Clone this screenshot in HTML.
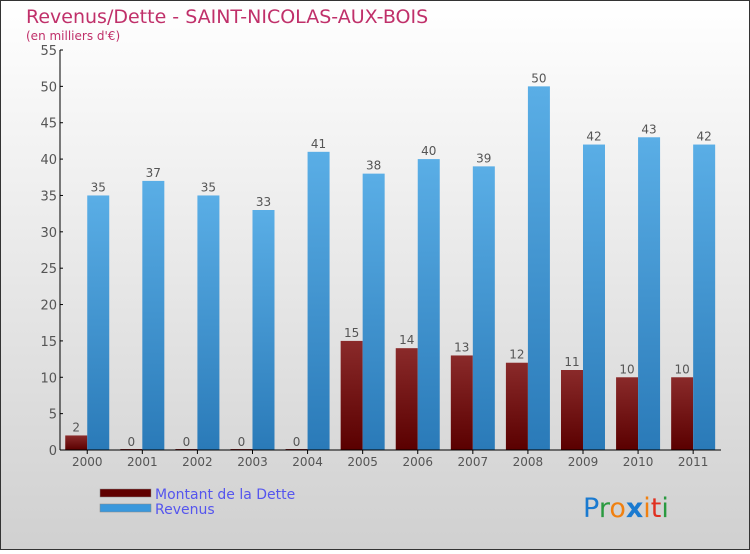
<!DOCTYPE html>
<html><head><meta charset="utf-8"><style>
html,body{margin:0;padding:0}
body{width:750px;height:550px;overflow:hidden;font-family:"DejaVu Sans","Liberation Sans",sans-serif}
</style></head><body>
<svg id="chart" width="750" height="550" xmlns="http://www.w3.org/2000/svg">
<defs>
<linearGradient id="bg" x1="0" y1="0" x2="0" y2="1"><stop offset="0" stop-color="#ffffff"/><stop offset="1" stop-color="#d0d0d0"/></linearGradient>
<linearGradient id="gDebt" x1="0" y1="0" x2="0" y2="1"><stop offset="0" stop-color="#8a2a2a"/><stop offset="1" stop-color="#5a0000"/></linearGradient>
<linearGradient id="gRev" x1="0" y1="0" x2="0" y2="1"><stop offset="0" stop-color="#5aaee6"/><stop offset="1" stop-color="#2a7ab8"/></linearGradient>
</defs>
<rect x="0.5" y="0.5" width="749" height="549" fill="url(#bg)" stroke="#333"/>
<text x="26" y="23" font-size="19" fill="#c0306a">Revenus/Dette - SAINT-NICOLAS-AUX-BOIS</text>
<text x="26" y="40" font-size="12" fill="#c0306a">(en milliers d'€)</text>
<g id="bars"></g>
<g id="axes"></g>
<g>
<rect x="100" y="489" width="51" height="8" fill="#600000" stroke="#888" stroke-width="0.5"/>
<text x="155" y="499" font-size="14" fill="#5555ee">Montant de la Dette</text>
<rect x="100" y="504" width="51" height="8" fill="#3a98dc" stroke="#888" stroke-width="0.5"/>
<text x="155" y="514" font-size="14" fill="#5555ee">Revenus</text>
</g>
<g font-size="27" font-family="DejaVu Sans, sans-serif">
<text x="583" y="517"><tspan fill="#1a7ad0">P</tspan><tspan fill="#2a9a40">r</tspan><tspan fill="#f08010">o</tspan><tspan fill="#1a7ad0" font-weight="bold">x</tspan><tspan fill="#f08010">i</tspan><tspan fill="#e03020">t</tspan><tspan fill="#2a9a40">i</tspan></text>
</g>
</svg>
<script>
const years=["2000","2001","2002","2003","2004","2005","2006","2007","2008","2009","2010","2011"];
const debt=[2,0,0,0,0,15,14,13,12,11,10,10];
const revenue=[35,37,35,33,41,38,40,39,50,42,43,42];
const yTicks=[0,5,10,15,20,25,30,35,40,45,50,55];
const NS="http://www.w3.org/2000/svg";
const x0=60,x1=721,yBase=450,yTop=50,yMax=55;
const gw=(x1-x0)/years.length;
const y=v=>yBase-(v/yMax)*(yBase-yTop);
const bars=document.getElementById('bars'),axes=document.getElementById('axes');
function mk(tag,attrs,parent){const e=document.createElementNS(NS,tag);for(const k in attrs)e.setAttribute(k,attrs[k]);parent.appendChild(e);return e;}
years.forEach((yr,i)=>{
  const c=x0+gw*i+gw/2-0.3;
  const d=mk('rect',{x:c-22,y:y(debt[i])-(debt[i]===0?1:0),width:22,height:Math.max(1,yBase-y(debt[i])),fill:'url(#gDebt)'},bars);
  
  
  const r=mk('rect',{x:c,y:y(revenue[i]),width:22,height:yBase-y(revenue[i]),fill:'url(#gRev)'},bars);
  
  
  const dl=mk('text',{x:c-11,y:y(debt[i])-4,'font-size':12,fill:'#555','text-anchor':'middle'},bars);dl.textContent=debt[i];
  
  
  const rl=mk('text',{x:c+11,y:y(revenue[i])-4,'font-size':12,fill:'#555','text-anchor':'middle'},bars);rl.textContent=revenue[i];
  
  
  const t=mk('line',{x1:c,x2:c,y1:yBase,y2:yBase+4,stroke:'#000'},axes);
  
  
  const xl=mk('text',{x:c,y:yBase+16,'font-size':12,fill:'#555','text-anchor':'middle'},axes);xl.textContent=yr;
  
  
});
const ya=mk('line',{x1:x0,x2:x0,y1:yTop,y2:yBase,stroke:'#000'},axes);


const xa=mk('line',{x1:x0,x2:x1,y1:yBase,y2:yBase,stroke:'#000'},axes);


yTicks.forEach(v=>{
  const t=mk('line',{x1:x0,x2:x0+3,y1:y(v),y2:y(v),stroke:'#000'},axes);
  
  
  const l=mk('text',{x:x0-3,y:y(v)+5,'font-size':13,fill:'#555','text-anchor':'end'},axes);l.textContent=v;
  
  
});
</script>
</body></html>
